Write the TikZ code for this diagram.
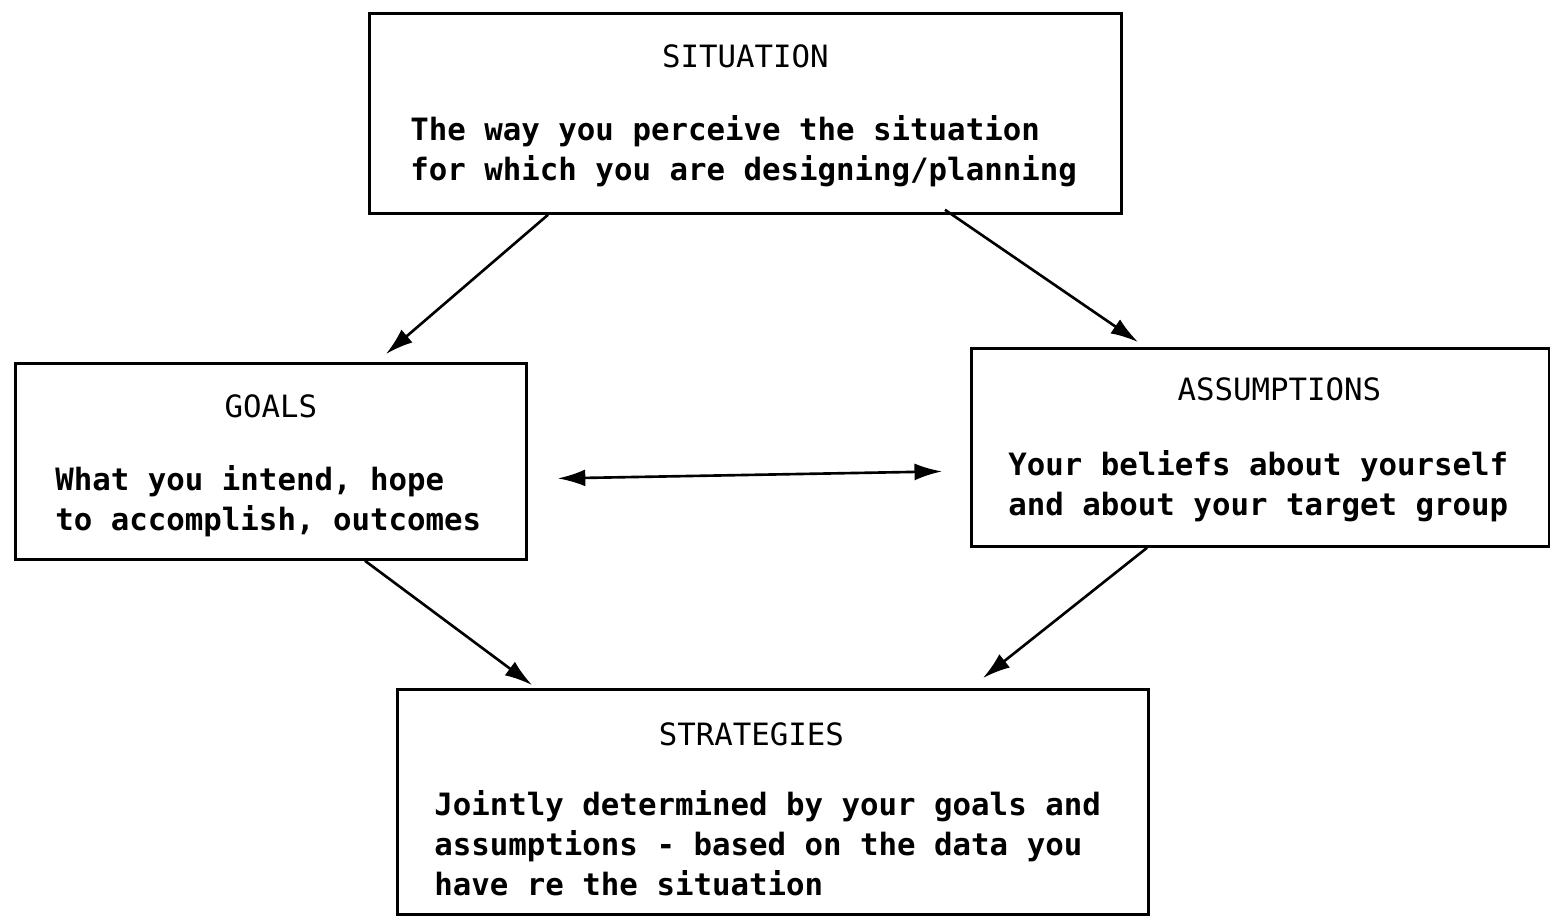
\documentclass[tikz,border=0pt]{standalone}
\usepackage{fontspec}
\newfontfamily\printfont{DejaVu Sans Mono}
\usetikzlibrary{positioning,arrows.meta}

\begin{document}
\begin{tikzpicture}[
            >={Latex[length=5.5mm,width=3.4mm]},
            box/.style = {draw, line width=1.6pt, inner sep=0pt, anchor=north west},
            head/.style = {font=\printfont\fontsize{17.5}{22.8}\selectfont, inner sep=0pt, anchor=north},
            body/.style = {font=\printfont\bfseries\fontsize{17.5}{22.8}\selectfont, inner sep=0pt, anchor=north west, align=left},
            link/.style = {line width=1.5pt, ->}]
            \useasboundingbox (0,0) rectangle (31,18.46);
            % the four boxes
            \node (sit) [box, minimum width=15.04cm, minimum height=4cm] at (7.36,18.22) {};
            \node (goals) [box, minimum width=10.22cm, minimum height=3.92cm] at (0.28,11.22) {};
            \node (assum) [box, minimum width=11.56cm, minimum height=3.96cm] at (19.4,11.52) {};
            \node (strat) [box, minimum width=15.02cm, minimum height=4.5cm] at (7.92,4.70) {};
            % headings
            \node (sitT) [head, below=0.64cm of sit.north] {SITUATION};
            \node (goalsT) [head, below=0.64cm of goals.north] {GOALS};
            \node (assumT) [head, below=0.6cm of assum.north, xshift=0.38cm] {ASSUMPTIONS};
            \node (stratT) [head, below=0.68cm of strat.north, xshift=-0.43cm] {STRATEGIES};
            % texts
            \node (sitB) [body] at ([xshift=0.84cm,yshift=-2.06cm]sit.north west) {The way you perceive the situation\\for which you are designing/planning};
            \node (goalsB) [body] at ([xshift=0.82cm,yshift=-2.06cm]goals.north west) {What you intend, hope\\to accomplish, outcomes};
            \node (assumB) [body] at ([xshift=0.76cm,yshift=-2.06cm]assum.north west) {Your beliefs about yourself\\and about your target group};
            \node (stratB) [body] at ([xshift=0.76cm,yshift=-2.04cm]strat.north west) {Jointly determined by your goals and\\assumptions - based on the data you\\have re the situation};
            % arrows
            \draw[link] ([xshift=3.6cm]sit.south west) -- ([xshift=7.44cm,yshift=0.16cm]goals.north west);
            \draw[link] ([xshift=11.54cm,yshift=0.1cm]sit.south west) -- ([xshift=3.36cm,yshift=0.1cm]assum.north west);
            \draw[link, <->] ([xshift=0.6cm,yshift=-0.34cm]goals.east) -- ([xshift=-0.56cm,yshift=-0.48cm]assum.west);
            \draw[link] ([xshift=7.02cm]goals.south west) -- ([xshift=2.72cm,yshift=0.06cm]strat.north west);
            \draw[link] ([xshift=3.54cm]assum.south west) -- ([xshift=11.74cm,yshift=0.2cm]strat.north west);
            \end{tikzpicture}
\end{document}
